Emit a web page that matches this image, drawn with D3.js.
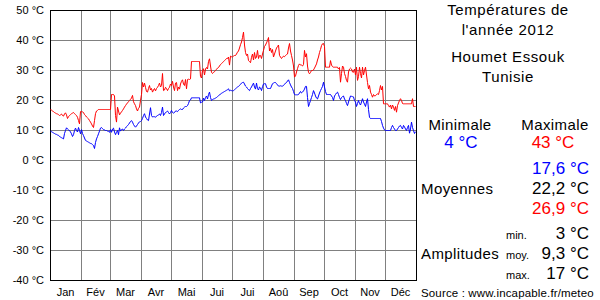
<!DOCTYPE html>
<html><head><meta charset="utf-8">
<script src="https://cdn.jsdelivr.net/npm/d3@7"></script>
<style>
html,body{margin:0;padding:0;background:#fff;}
text{font-family:"Liberation Sans",Arial,sans-serif;}
</style></head>
<body><svg id="c" width="600" height="300"></svg>
<script>
const months = ["Jan","Fév","Mar","Avr","Mai","Jui","Jui","Aoû","Sep","Oct","Nov","Déc"];
const monthDays = [31,29,31,30,31,30,31,31,30,31,30,31];
const yTicks = [50,40,30,20,10,0,-10,-20,-30,-40];
// daily maximum temperatures 2012 (°C)
const tmax = [
 17.0,16.8,16.5,16.3,16.0,15.8,15.6,15.5,15.3,15.0,15.2,15.5,15.0,14.8,15.5,15.9,15.2,14.0,14.6,15.0,15.3,15.6,15.8,16.0,15.6,15.3,15.0,14.4,13.3,12.2,16.3,
 16.3,16.2,16.0,15.3,15.0,14.5,14.2,13.9,13.3,12.8,12.2,11.5,11.0,13.3,15.6,16.5,16.7,17.0,17.0,17.0,17.0,17.0,17.0,17.0,17.0,17.0,17.0,17.0,17.0,
 17.0,22.0,22.0,22.0,21.5,15.0,12.8,17.8,16.5,15.2,15.8,16.2,16.7,17.2,17.8,18.3,18.8,19.2,19.6,20.0,20.4,20.8,21.7,19.6,18.9,18.3,17.2,16.5,17.4,17.8,20.0,
 22.0,26.0,24.5,25.8,24.4,23.0,22.8,24.0,25.0,23.5,24.0,22.8,23.5,24.0,23.2,24.0,24.4,25.0,25.8,24.5,25.0,29.0,23.3,23.5,24.4,24.0,23.3,24.0,24.4,25.5,
 25.0,26.4,24.5,23.3,25.8,26.0,23.3,24.5,23.8,25.5,26.4,26.9,25.5,25.0,27.0,23.9,27.0,27.1,27.0,27.2,33.0,33.0,33.0,33.0,33.0,33.0,33.0,33.0,33.0,28.0,27.5,
 30.0,30.6,28.5,30.5,31.0,30.5,33.0,33.9,31.5,29.4,29.0,29.4,29.6,30.0,30.4,30.8,31.0,31.5,32.0,32.3,32.6,33.0,33.3,33.6,34.0,34.0,34.5,31.8,34.8,34.6,
 34.5,34.8,35.0,35.0,35.5,36.1,36.5,37.5,38.6,39.5,41.0,42.8,38.5,36.0,35.0,35.5,33.3,33.0,32.6,34.4,35.5,33.5,36.0,34.0,34.5,36.7,34.0,35.0,35.0,34.0,35.5,
 36.7,38.0,38.5,39.2,40.0,41.0,36.5,37.5,36.0,37.0,34.5,35.5,36.5,37.5,38.0,38.5,35.0,34.5,34.0,34.4,34.8,34.6,35.0,35.3,35.5,37.5,39.0,36.5,35.0,33.5,31.5,
 27.8,28.2,29.5,30.6,31.7,32.2,31.8,31.8,31.5,32.0,36.7,34.5,35.6,31.5,29.4,28.9,29.4,30.0,30.0,30.2,30.8,31.5,32.2,33.5,34.5,36.0,37.0,38.3,38.9,39.0,
 38.0,31.1,31.1,31.1,31.1,31.1,33.3,31.8,31.3,31.1,31.1,31.1,31.1,31.1,30.5,31.0,26.1,29.0,31.5,31.1,29.0,28.0,26.7,26.1,29.5,30.5,30.8,30.5,29.5,29.4,30.5,
 28.5,31.1,26.7,28.0,31.1,29.0,27.5,31.1,28.5,30.0,31.1,28.5,26.0,23.9,25.0,22.8,22.0,21.1,22.0,21.5,21.6,22.0,22.2,22.0,23.3,25.0,23.5,24.7,18.9,18.9,
 18.9,18.9,18.9,18.3,17.8,18.5,17.2,18.5,17.8,16.7,18.0,16.1,18.3,19.2,20.0,20.6,20.0,19.0,18.9,18.9,18.9,18.9,18.9,18.9,18.9,18.9,18.9,20.6,18.0,18.0,18.0
];
// daily minimum temperatures 2012 (°C)
const tmin = [
 9.8,9.6,9.4,9.2,9.0,8.8,8.7,8.5,8.4,8.0,7.8,7.6,7.4,7.2,9.0,10.0,10.9,10.5,10.2,10.0,9.5,8.9,8.0,8.6,10.0,10.8,10.0,9.5,11.0,10.0,8.9,
 10.3,9.0,8.3,7.5,6.7,6.5,6.3,6.1,5.9,5.7,5.6,5.3,5.0,4.0,6.0,7.2,8.0,8.9,9.8,10.8,11.0,10.6,10.3,10.2,10.0,10.0,9.8,9.7,9.4,
 10.3,9.4,10.5,10.8,9.5,8.6,9.4,10.0,8.6,10.9,9.8,10.3,10.5,10.0,10.5,10.8,11.3,11.6,12.0,12.5,13.0,13.3,12.8,12.0,11.5,11.1,11.5,12.0,12.5,12.9,13.0,
 13.3,14.0,15.0,15.6,14.5,14.0,13.5,13.3,15.5,17.6,15.0,14.5,14.6,14.6,14.4,14.8,15.0,15.2,15.5,15.0,16.0,17.8,15.0,15.5,16.0,16.2,16.5,16.0,15.5,16.0,
 16.7,16.0,15.8,16.0,16.5,16.5,16.3,16.7,17.0,17.2,17.0,17.0,17.5,17.8,18.0,18.0,18.3,19.0,20.0,20.2,20.9,20.9,20.9,20.9,20.9,20.9,20.9,20.9,20.9,19.2,19.4,
 19.5,20.8,20.0,21.0,21.5,20.5,22.0,22.8,21.0,20.0,20.3,20.5,20.6,20.8,21.0,21.3,21.6,21.8,22.2,22.4,22.6,22.8,23.0,23.2,23.4,23.6,23.9,23.2,23.4,23.3,
 23.2,23.3,23.6,23.9,24.2,24.5,24.7,25.0,25.4,25.8,26.0,26.1,25.5,24.8,24.5,24.0,23.6,23.3,24.0,24.5,25.2,25.8,24.5,23.8,25.8,24.0,23.5,24.5,24.2,23.3,24.6,
 25.5,25.6,25.6,24.5,24.0,24.0,24.0,24.0,24.8,25.6,25.8,26.0,26.0,25.6,25.2,24.8,24.8,24.9,24.8,24.8,25.0,25.4,25.8,26.0,26.5,26.9,26.0,25.2,24.5,24.0,23.0,
 22.0,21.9,21.9,21.9,22.0,22.5,23.0,22.5,22.8,23.2,23.8,24.7,24.7,21.0,18.0,19.0,20.0,21.0,22.0,23.3,22.5,21.5,20.8,20.5,21.5,22.5,23.3,24.0,24.7,26.1,
 24.5,23.0,22.0,22.0,22.0,22.0,22.0,21.5,21.0,20.0,21.5,22.0,22.5,22.8,22.0,21.0,20.3,21.0,21.3,21.5,20.5,20.0,19.0,18.3,19.5,20.5,21.5,21.4,21.3,21.2,20.0,
 19.5,18.0,19.0,20.0,19.0,18.5,19.5,20.6,19.5,18.8,18.0,19.5,20.6,17.0,14.4,14.0,14.0,14.0,14.0,14.0,14.0,14.0,14.0,14.0,14.0,14.0,13.0,11.7,10.8,10.2,
 10.0,10.0,10.0,10.0,10.0,10.0,11.0,11.7,11.0,10.5,10.0,10.0,10.5,11.0,11.5,11.7,11.0,10.5,11.7,11.2,10.5,10.0,11.0,11.7,9.1,10.5,12.8,11.0,10.0,9.0,9.6
];
const titleLines = ["Températures de","l'année 2012","Houmet Essouk","Tunisie"];
const extremes = {min:"4 °C", max:"43 °C"};
const means = ["17,6 °C","22,2 °C","26,9 °C"];
const amplitudes = [["min.","3 °C"],["moy.","9,3 °C"],["max.","17 °C"]];
const source = "Source : www.incapable.fr/meteo";

const svg = d3.select("#c");
const L = 50, R = 416, T = 10, B = 280;
const nDays = d3.sum(monthDays);
const x = d3.scaleLinear().domain([0, nDays]).range([L, R]);
const y = d3.scaleLinear().domain([-40, 50]).range([B, T]);
const bounds = d3.cumsum(monthDays);
const starts = [0, ...bounds.slice(0, -1)];

const g = svg.append("g");
// horizontal grid
g.selectAll("line.h").data(yTicks.filter(t => t > -40 && t < 50)).join("line")
  .attr("x1", L).attr("x2", R).attr("y1", d => y(d) + 0.5).attr("y2", d => y(d) + 0.5)
  .attr("stroke", "#808080").attr("stroke-width", 1).attr("shape-rendering","crispEdges");
// vertical grid at month boundaries
g.selectAll("line.v").data(bounds.slice(0, -1)).join("line")
  .attr("x1", d => Math.round(x(d)) + 0.5).attr("x2", d => Math.round(x(d)) + 0.5).attr("y1", T).attr("y2", B)
  .attr("stroke", "#808080").attr("stroke-width", 1).attr("shape-rendering","crispEdges");
// frame
g.append("rect").attr("x", L + 0.5).attr("y", T + 0.5).attr("width", R - L).attr("height", B - T)
  .attr("fill", "none").attr("stroke", "#000").attr("stroke-width", 1).attr("shape-rendering","crispEdges");

// y labels
g.selectAll("text.yl").data(yTicks).join("text")
  .attr("x", 44).attr("y", d => y(d) + 4).attr("text-anchor", "end")
  .attr("font-size", 11).text(d => d + " °C");
// month labels
g.selectAll("text.ml").data(months).join("text")
  .attr("x", (d, i) => x(starts[i] + monthDays[i] / 2)).attr("y", 296).attr("text-anchor", "middle")
  .attr("font-size", 11).text(d => d);

const line = d3.line().x((d, i) => x(i) + 0.5).y(d => y(d) + 0.5);
g.append("path").datum(tmax).attr("d", line).attr("fill", "none").attr("stroke", "#ff0000").attr("stroke-width", 1);
g.append("path").datum(tmin).attr("d", line).attr("fill", "none").attr("stroke", "#0000ff").attr("stroke-width", 1);

// right panel
const p = svg.append("g");
const tl = [15, 35, 62, 82];
titleLines.forEach((t, i) => p.append("text").attr("x", 508).attr("y", tl[i]).attr("text-anchor", "middle")
  .attr("font-size", 15).attr("letter-spacing", 0.6).text(t));
p.append("text").attr("x", 460).attr("y", 130).attr("text-anchor", "middle").attr("font-size", 15).attr("letter-spacing", 0.4).text("Minimale");
p.append("text").attr("x", 555).attr("y", 130).attr("text-anchor", "middle").attr("font-size", 15).attr("letter-spacing", 0.4).text("Maximale");
p.append("text").attr("x", 461).attr("y", 148).attr("text-anchor", "middle").attr("font-size", 17).attr("fill", "#0000ff").text(extremes.min);
p.append("text").attr("x", 553).attr("y", 148).attr("text-anchor", "middle").attr("font-size", 17).attr("fill", "#ff0000").text(extremes.max);
const mc = ["#0000ff", "#000000", "#ff0000"], my = [174, 194, 214];
means.forEach((m, i) => p.append("text").attr("x", 589).attr("y", my[i]).attr("text-anchor", "end").attr("font-size", 17).attr("fill", mc[i]).text(m));
p.append("text").attr("x", 421).attr("y", 194).attr("font-size", 15).attr("letter-spacing", 0.4).text("Moyennes");
const ay = [239, 259, 279];
amplitudes.forEach((a, i) => {
  p.append("text").attr("x", 506).attr("y", ay[i]).attr("font-size", 11).text(a[0]);
  p.append("text").attr("x", 589).attr("y", ay[i]).attr("text-anchor", "end").attr("font-size", 17).text(a[1]);
});
p.append("text").attr("x", 421).attr("y", 259).attr("font-size", 15).attr("letter-spacing", 0.4).text("Amplitudes");
p.append("text").attr("x", 421).attr("y", 297).attr("font-size", 11.5).attr("letter-spacing", 0.15).text(source);
</script></body></html>
